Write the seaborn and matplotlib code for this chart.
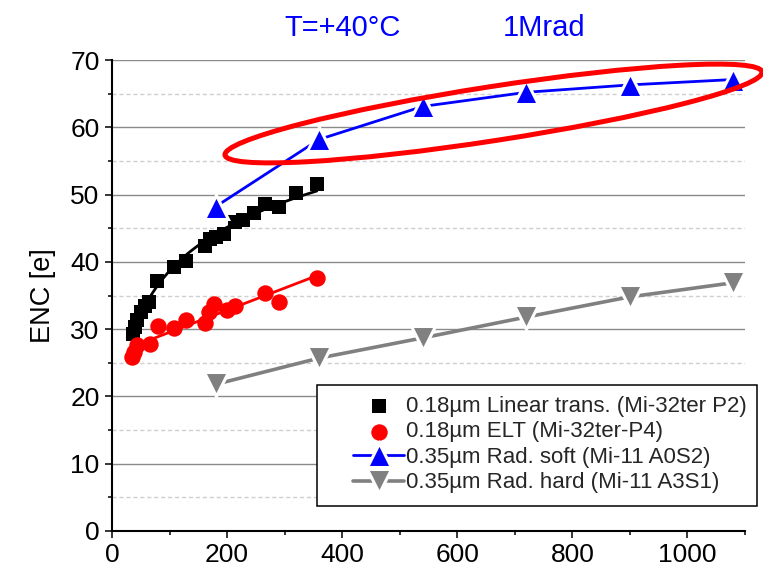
import numpy as np
import pandas as pd
import matplotlib
matplotlib.use("Agg")
import matplotlib.pyplot as plt
import seaborn as sns
from matplotlib.patches import Ellipse, Rectangle
from matplotlib.ticker import MultipleLocator

# ---- data ----
lin_x = [36, 40, 44, 50, 58, 65, 79, 107, 129, 161, 171, 181, 195, 214, 228, 246, 266, 290, 320, 356]
lin_y = [29.3, 30.3, 31.4, 32.5, 33.5, 34.0, 37.2, 39.2, 40.1, 42.3, 43.4, 43.7, 44.2, 45.9, 46.2, 47.2, 48.6, 48.2, 50.2, 51.5]

elt_x = [34, 38, 44, 66, 80, 107, 129, 161, 168, 178, 199, 214, 266, 291, 356]
elt_y = [25.8, 26.6, 27.6, 27.8, 30.5, 30.1, 31.3, 30.9, 32.5, 33.8, 32.9, 33.4, 35.4, 34.1, 37.6]

soft_x = [180, 360, 540, 720, 900, 1080]
soft_y = [48.2, 58.2, 63.1, 65.2, 66.3, 67.1]

hard_x = [180, 360, 540, 720, 900, 1080]
hard_y = [21.8, 25.7, 28.7, 31.8, 34.8, 36.9]

series_labels = [
    "0.18µm Linear trans. (Mi-32ter P2)",
    "0.18µm ELT (Mi-32ter-P4)",
    "0.35µm Rad. soft (Mi-11 A0S2)",
    "0.35µm Rad. hard (Mi-11 A3S1)",
]
title_left = "T=+40°C"
title_right = "1Mrad"
y_label = "ENC [e]"
x_ticks = [0, 200, 400, 600, 800, 1000]
y_ticks = [0, 10, 20, 30, 40, 50, 60, 70]

# ---- style ----
sns.set_theme(style="white")
plt.rcParams["font.family"] = ["Liberation Sans", "DejaVu Sans"]

W, H = 763, 577
fig = plt.figure(figsize=(W / 100, H / 100), dpi=100)
ax = fig.add_axes([112 / W, 1 - 531 / H, 633 / W, 471 / H])

# grid
ax.set_axisbelow(True)
ax.yaxis.grid(True, which="major", color="#8a8a8a", lw=1.0, ls="-")
ax.yaxis.grid(True, which="minor", color="#cfcfcf", lw=1.0, ls=(0, (3, 2)))
ax.xaxis.grid(False, which="both")

# fits
sns.regplot(x=lin_x, y=lin_y, logx=True, ci=None, scatter=False, color="black",
            line_kws={"lw": 2.0, "zorder": 2}, ax=ax)
sns.regplot(x=elt_x, y=elt_y, ci=None, scatter=False, color="#ff0000",
            line_kws={"lw": 2.0, "zorder": 2}, ax=ax)

# points
sns.scatterplot(x=lin_x, y=lin_y, marker="s", s=100, color="black", linewidth=0,
                ax=ax, label=series_labels[0], zorder=3)
sns.scatterplot(x=elt_x, y=elt_y, marker="o", s=140, color="#ff0000", linewidth=0,
                ax=ax, label=series_labels[1], zorder=3)
sns.lineplot(x=soft_x, y=soft_y, color="#0000ff", marker="^", markersize=17,
             markeredgecolor="white", markeredgewidth=2.2, lw=2.0,
             ax=ax, label=series_labels[2], zorder=3)
sns.lineplot(x=hard_x, y=hard_y, color="#808080", marker="v", markersize=17,
             markeredgecolor="white", markeredgewidth=2.2, lw=2.6,
             ax=ax, label=series_labels[3], zorder=3)

# axes
ax.set_xlim(0, 1100)
ax.set_ylim(0, 70)
ax.set_xticks(x_ticks)
ax.set_yticks(y_ticks)
ax.xaxis.set_minor_locator(MultipleLocator(100))
ax.yaxis.set_minor_locator(MultipleLocator(5))
ax.tick_params(which="both", direction="out", left=True, bottom=True, color="black",
               width=1.1, labelsize=19, labelcolor="black")
ax.tick_params(which="major", length=5, pad=4)
ax.tick_params(which="minor", length=3)
sns.despine(ax=ax)
for s in ["left", "bottom"]:
    ax.spines[s].set_color("black")
    ax.spines[s].set_linewidth(1.5)
ax.set_xlabel("")
ax.set_ylabel(y_label, fontsize=19.5, color="black", labelpad=10)

# legend with custom frame
h, l = ax.get_legend_handles_labels()
leg = ax.legend(h, l, loc="upper left", bbox_to_anchor=(353 / W, 1 - 396 / H),
                bbox_transform=fig.transFigure, frameon=False, borderpad=0,
                borderaxespad=0, handlelength=2.3, handletextpad=0.1,
                labelspacing=0.2, fontsize=16)
leg.set_zorder(6)
ax.add_patch(Rectangle((317 / W, 1 - 506 / H), 440 / W, 121 / H, transform=fig.transFigure,
                       facecolor="white", edgecolor="black", lw=1.1, clip_on=False, zorder=5))

# highlight ellipse
ax.add_patch(Ellipse((4.935, (H - 113.5) / 100), 5.434, 0.54, angle=8.8,
                     transform=fig.dpi_scale_trans, fill=False, edgecolor="#ff0000",
                     lw=3.6, clip_on=False, zorder=10))

# header texts
fig.text(343 / W, 1 - 28 / H, title_left, color="#0000ff", fontsize=21, ha="center", va="center")
fig.text(544 / W, 1 - 28 / H, title_right, color="#0000ff", fontsize=21, ha="center", va="center")

fig.savefig("out.png", dpi=100)
